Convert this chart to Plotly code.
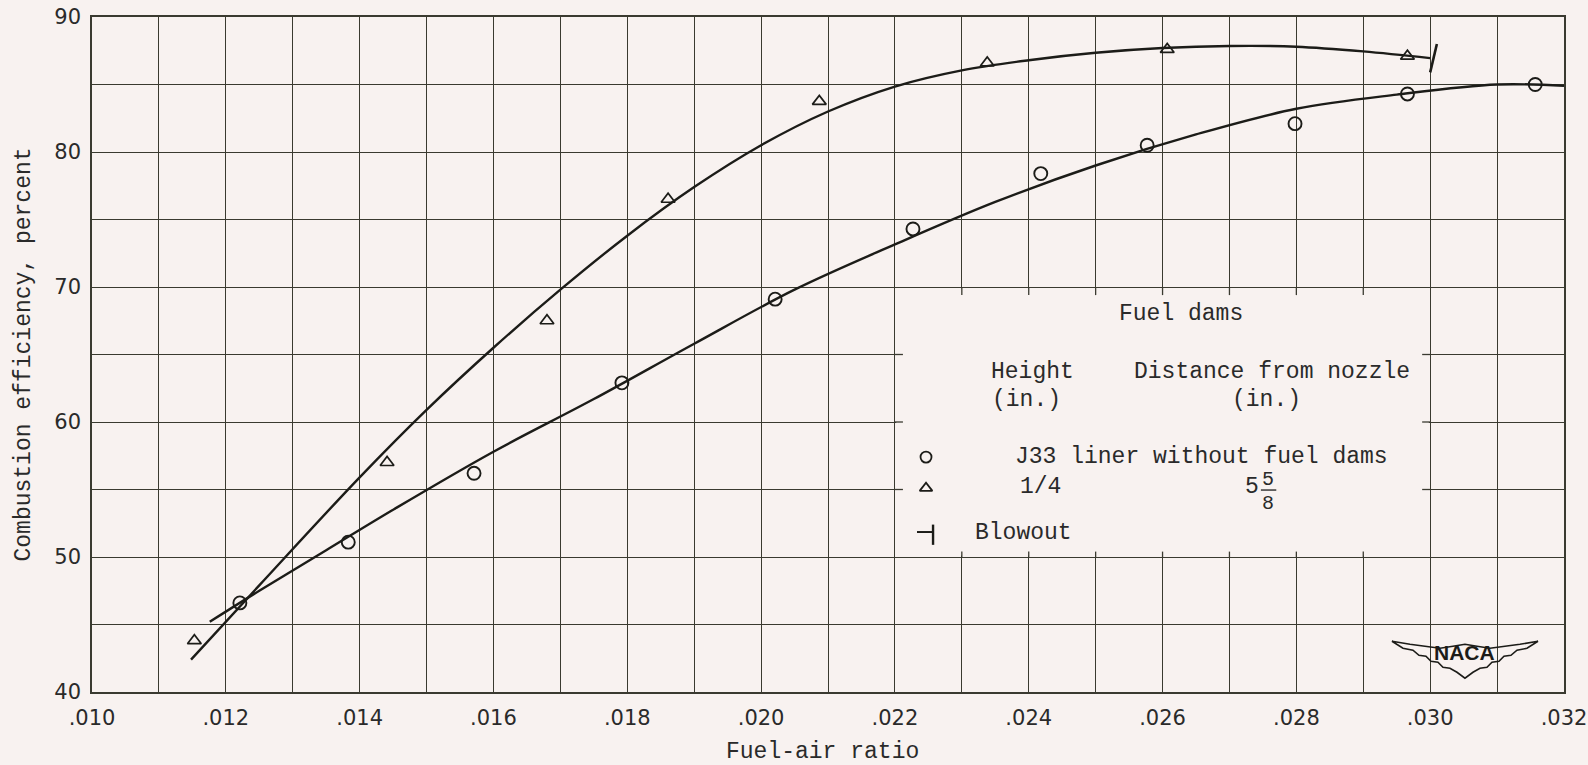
import plotly.graph_objects as go

# ---------------- data ----------------
# J33 liner without fuel dams (circles)
circle_x = [0.01221, 0.01383, 0.01571, 0.01792, 0.02021, 0.02227, 0.02418, 0.02577, 0.02798, 0.02966, 0.03157]
circle_y = [46.6, 51.1, 56.2, 62.9, 69.1, 74.3, 78.4, 80.5, 82.1, 84.3, 85.0]

# 1/4 in. fuel dams, 5 5/8 in. from nozzle (triangles)
tri_x = [0.01153, 0.01441, 0.01680, 0.01861, 0.02087, 0.02338, 0.02607, 0.02966]
tri_y = [43.8, 57.0, 67.5, 76.5, 83.75, 86.6, 87.6, 87.1]

# faired curves as drawn on the chart
circle_curve_x = [0.01176, 0.0125, 0.0135, 0.0145, 0.0160, 0.0175, 0.0190, 0.0205, 0.0220,
                  0.0235, 0.0250, 0.0265, 0.0280, 0.0295, 0.0310, 0.0320]
circle_curve_y = [45.2, 47.5, 50.5, 53.5, 57.8, 61.7, 65.8, 69.8, 73.15,
                  76.3, 79.0, 81.3, 83.2, 84.25, 85.0, 84.9]

tri_curve_x = [0.01148, 0.0125, 0.0140, 0.0150, 0.0160, 0.0170, 0.0180, 0.0190, 0.0200,
               0.0210, 0.0220, 0.0230, 0.0240, 0.0250, 0.0260, 0.0270, 0.0280, 0.0290, 0.0300]
tri_curve_y = [42.4, 47.9, 55.9, 60.9, 65.5, 69.8, 73.8, 77.4, 80.5,
               83.0, 84.85, 86.05, 86.8, 87.35, 87.7, 87.85, 87.8, 87.45, 86.95]

# blowout flag at end of triangle curve
blowout_x = [0.03000, 0.03010]
blowout_y = [85.9, 88.0]

# axes
x_tick_vals = [0.010, 0.012, 0.014, 0.016, 0.018, 0.020, 0.022, 0.024, 0.026, 0.028, 0.030, 0.032]
x_tick_labels = [".010", ".012", ".014", ".016", ".018", ".020", ".022", ".024", ".026", ".028", ".030", ".032"]
y_tick_vals = [40, 50, 60, 70, 80, 90]
y_tick_labels = ["40", "50", "60", "70", "80", "90"]
x_grid_step = 0.001
y_grid_step = 5

# ---------------- style ----------------
BG = "#f8f2f0"
INK = "#1c1c18"
GRID = "#3a3a30"
TXT = "#2a2a2a"
MONO = "Liberation Mono, Courier New, monospace"
SANS = "DejaVu Sans, sans-serif"

fig = go.Figure()

fig.add_trace(go.Scatter(x=circle_curve_x, y=circle_curve_y, mode="lines",
                         line=dict(color=INK, width=2.4, shape="spline", smoothing=1.0),
                         hoverinfo="skip", showlegend=False))
fig.add_trace(go.Scatter(x=tri_curve_x, y=tri_curve_y, mode="lines",
                         line=dict(color=INK, width=2.4, shape="spline", smoothing=1.0),
                         hoverinfo="skip", showlegend=False))
fig.add_trace(go.Scatter(x=blowout_x, y=blowout_y, mode="lines",
                         line=dict(color=INK, width=2.6), showlegend=False))
fig.add_trace(go.Scatter(x=circle_x, y=circle_y, mode="markers",
                         marker=dict(symbol="circle-open", size=13, color=INK, line=dict(width=1.9)),
                         showlegend=False))
fig.add_trace(go.Scatter(x=tri_x, y=tri_y, mode="markers",
                         marker=dict(symbol="triangle-up-open", size=12, color=INK, line=dict(width=1.7)),
                         showlegend=False))

# ---------------- key box (blanked grid area) ----------------
box_x0, box_x1, box_y0, box_y1 = 0.022, 0.030, 50, 70
shapes = [dict(type="rect", xref="x", yref="y", layer="between",
               x0=box_x0 + 0.00002, x1=box_x1 - 0.00002, y0=box_y0 + 0.12, y1=box_y1 - 0.12,
               fillcolor=BG, line=dict(width=0))]
stub_x = 0.00012
stub_y = 0.6
gx = box_x0 + x_grid_step
while gx < box_x1 - 1e-9:
    shapes.append(dict(type="line", xref="x", yref="y", layer="between",
                       x0=gx, x1=gx, y0=box_y1, y1=box_y1 - stub_y, line=dict(color=GRID, width=1.3)))
    shapes.append(dict(type="line", xref="x", yref="y", layer="between",
                       x0=gx, x1=gx, y0=box_y0, y1=box_y0 + 0.4, line=dict(color=GRID, width=1.3)))
    gx += x_grid_step
gy = box_y0 + y_grid_step
while gy < box_y1:
    shapes.append(dict(type="line", xref="x", yref="y", layer="between",
                       x0=box_x0, x1=box_x0 + stub_x, y0=gy, y1=gy, line=dict(color=GRID, width=1.3)))
    shapes.append(dict(type="line", xref="x", yref="y", layer="between",
                       x0=box_x1, x1=box_x1 - stub_x, y0=gy, y1=gy, line=dict(color=GRID, width=1.3)))
    gy += y_grid_step

# blowout symbol in key
shapes.append(dict(type="line", xref="x", yref="y", x0=0.02233, x1=0.02257, y0=51.85, y1=51.85,
                   line=dict(color=INK, width=2)))
shapes.append(dict(type="line", xref="x", yref="y", x0=0.02257, x1=0.02257, y0=52.4, y1=50.9,
                   line=dict(color=INK, width=2.4)))
# fraction bar for 5 5/8
shapes.append(dict(type="line", xref="x", yref="y", x0=0.02747, x1=0.02770, y0=54.96, y1=54.96,
                   line=dict(color=TXT, width=1.4)))

# NACA wings logo
wing_path = ("M -73,17 L -55,14 L -40,12 L -25,10 L -12,12 L 0,14 L 12,12 L 25,10 L 40,12 L 55,14 L 73,17 "
             "L 62,10 L 52,8 L 46,3 L 39,2 L 34,-3 L 27,-4 L 22,-9 L 15,-10 L 8,-14 L 0,-20 "
             "L -8,-14 L -15,-10 L -22,-9 L -27,-4 L -34,-3 L -39,2 L -46,3 L -52,8 L -62,10 Z")
shapes.append(dict(type="path", xref="x", yref="y", xsizemode="pixel", ysizemode="pixel",
                   xanchor=0.03052, yanchor=42.5, path=wing_path,
                   line=dict(color=INK, width=1.6), fillcolor="rgba(0,0,0,0)"))

annotations = []


def txt(text, x, y, size=23, xanchor="center", font=MONO, color=TXT, **kw):
    annotations.append(dict(text=text, x=x, y=y, xref="x", yref="y", showarrow=False,
                            xanchor=xanchor, yanchor="middle",
                            font=dict(family=font, size=size, color=color), **kw))


txt("Fuel dams", 0.02628, 68.0)
txt("Height", 0.02406, 63.7)
txt("(in.)", 0.02396, 61.6)
txt("Distance from nozzle", 0.02764, 63.7)
txt("(in.)", 0.02755, 61.6)
txt("J33 liner without fuel dams", 0.02376, 57.4, xanchor="left")
txt("1/4", 0.02418, 55.2)
txt("5", 0.02734, 55.2)
txt("5", 0.02758, 55.75, size=20)
txt("8", 0.02758, 54.0, size=20)
txt("Blowout", 0.02317, 51.8, xanchor="left")
txt("<b>NACA</b>", 0.03052, 42.9, size=21, font="Liberation Sans, Arial, sans-serif", color=INK)

# key symbols
fig.add_trace(go.Scatter(x=[0.022465], y=[57.4], mode="markers",
                         marker=dict(symbol="circle-open", size=11, color=INK, line=dict(width=1.8)),
                         showlegend=False))
fig.add_trace(go.Scatter(x=[0.022465], y=[55.1], mode="markers",
                         marker=dict(symbol="triangle-up-open", size=11, color=INK, line=dict(width=1.8)),
                         showlegend=False))

# axis titles
annotations.append(dict(text="Fuel-air ratio", x=0.496, y=-0.089, xref="paper", yref="paper",
                        showarrow=False, xanchor="center", yanchor="middle",
                        font=dict(family=MONO, size=23, color=TXT)))
annotations.append(dict(text="Combustion efficiency, percent", x=-0.0462, y=0.5, xref="paper", yref="paper",
                        showarrow=False, xanchor="center", yanchor="middle", textangle=-90,
                        font=dict(family=MONO, size=23, color=TXT)))

fig.update_layout(
    width=1588, height=765,
    margin=dict(l=92, r=24, t=17, b=73, autoexpand=False),
    paper_bgcolor=BG, plot_bgcolor=BG,
    shapes=shapes, annotations=annotations,
    showlegend=False,
    xaxis=dict(range=[0.010, 0.032], tickmode="array", tickvals=x_tick_vals, ticktext=x_tick_labels,
               showgrid=True, gridcolor=GRID, gridwidth=1.3, zeroline=False, automargin=False,
               showline=True, linecolor=GRID, linewidth=1.6, mirror=True,
               ticks="", ticklabelstandoff=6,
               tickfont=dict(family=SANS, size=21, color=TXT),
               minor=dict(tick0=0.010, dtick=x_grid_step, showgrid=True, gridcolor=GRID, gridwidth=1.3)),
    yaxis=dict(range=[40, 90], tickmode="array", tickvals=y_tick_vals, ticktext=y_tick_labels,
               showgrid=True, gridcolor=GRID, gridwidth=1.3, zeroline=False, automargin=False,
               showline=True, linecolor=GRID, linewidth=1.6, mirror=True,
               ticks="", ticklabelstandoff=5,
               tickfont=dict(family=SANS, size=21, color=TXT),
               minor=dict(tick0=40, dtick=y_grid_step, showgrid=True, gridcolor=GRID, gridwidth=1.3)),
)

fig.write_html("out.html")
